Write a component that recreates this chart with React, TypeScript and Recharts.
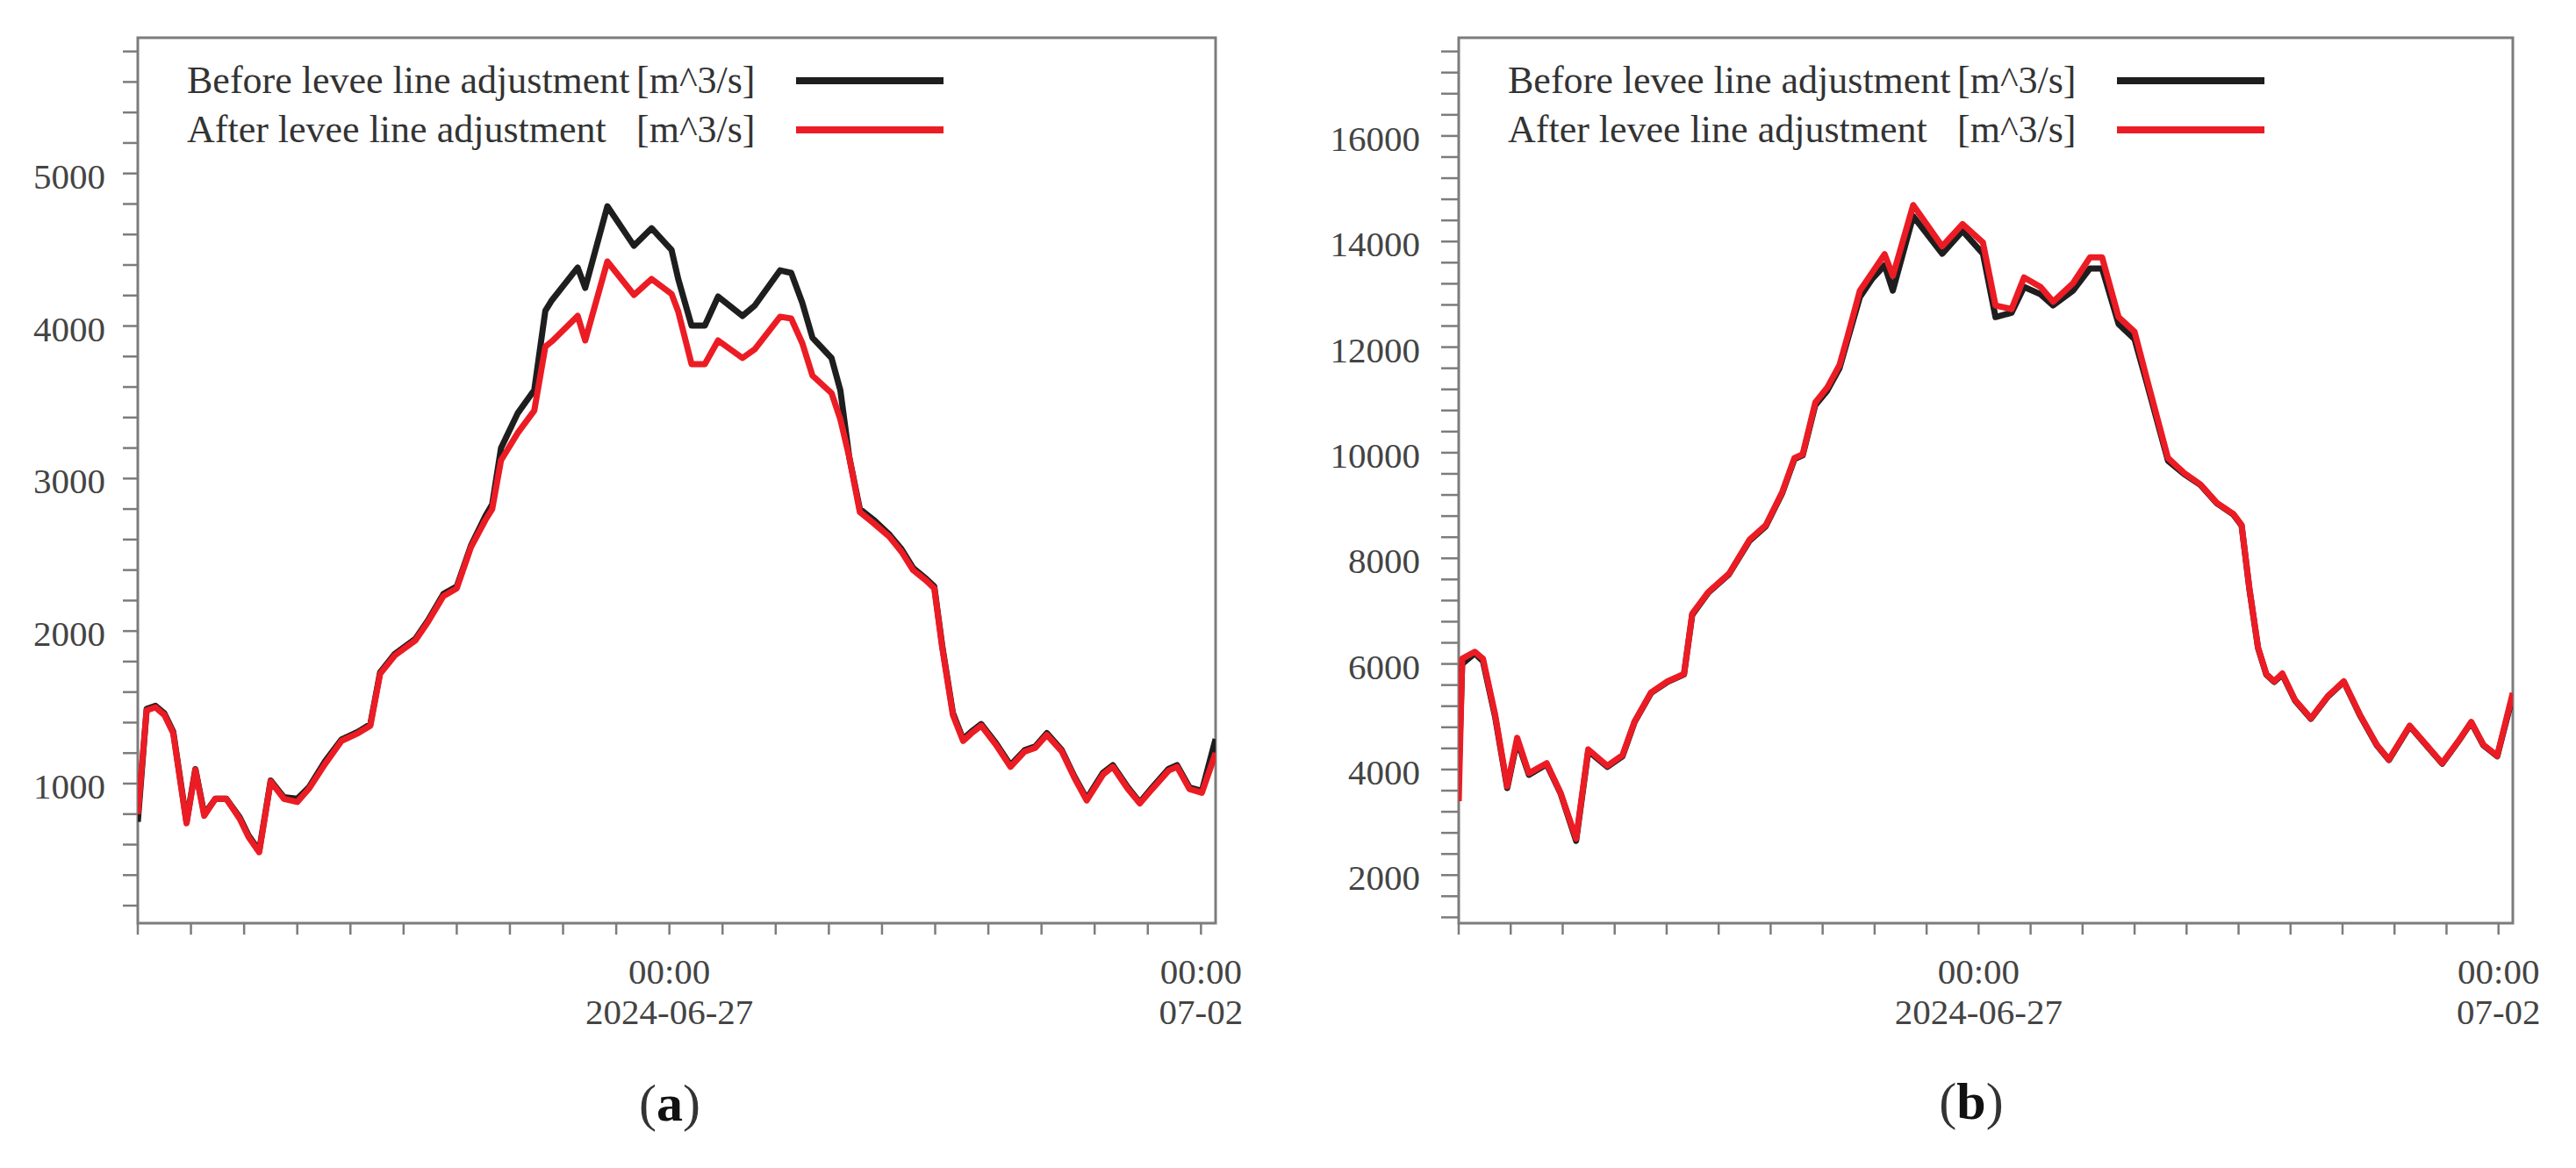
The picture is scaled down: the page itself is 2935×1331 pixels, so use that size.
import React from 'react';
import { LineChart, Line, XAxis, YAxis, ReferenceArea } from 'recharts';

// hours since 2024-06-22 00:00
const hoursA = [
  0, 2, 4, 6, 8, 11, 13, 15, 17.5, 20, 23, 25, 27.4, 30, 33, 36, 38.6, 42.3, 46, 49.7,
  52.5, 54.7, 58, 62.7, 65.5, 69, 72, 75.2, 78.5, 80, 82, 85.8, 89.5, 92, 93.5, 99.3, 101, 106, 112, 116,
  120.5, 122, 125, 128, 131, 136.5, 139.3, 145, 147.5, 150, 152.3, 156.6, 158.6, 160.6, 163, 166, 169.6, 172.4, 175, 178,
  179.8, 181.6, 184, 186.3, 188.2, 190.4, 193.7, 197, 200.2, 202.6, 205.2, 208.6, 211.4, 214.2, 217.9, 220.1, 223.5, 226.2, 229, 232.7,
  234.6, 237.4, 240.2, 243.3,
];
const beforeA = [
  750, 1490, 1510, 1460, 1340, 750, 1095, 800, 900, 900, 780, 660, 560, 1020, 910, 900, 975, 1147, 1290, 1340,
  1390, 1730, 1850, 1950, 2070, 2244, 2292, 2560, 2756, 2830, 3200, 3430, 3580, 4100, 4170, 4383, 4250, 4785, 4526, 4641,
  4498, 4308, 4003, 4003, 4193, 4066, 4135, 4365, 4348, 4153, 3923, 3790, 3578, 3141, 2800, 2732, 2635, 2537, 2414, 2342,
  2292, 1902, 1463, 1292, 1342, 1390, 1267, 1121, 1219, 1244, 1331, 1219, 1049, 901, 1072, 1121, 975, 877, 975, 1097,
  1121, 975, 951, 1292,
];
const afterA = [
  800, 1480, 1500, 1450, 1330, 740, 1090, 790, 900, 900, 770, 650, 550, 1014, 900, 880, 965, 1130, 1280, 1330,
  1380, 1720, 1840, 1940, 2060, 2230, 2280, 2550, 2730, 2800, 3120, 3300, 3446, 3865, 3900, 4066, 3905, 4423, 4204, 4308,
  4210, 4095, 3750, 3750, 3905, 3790, 3848, 4061, 4049, 3888, 3675, 3560, 3388, 3141, 2780, 2710, 2620, 2520, 2400, 2330,
  2280, 1890, 1450, 1280, 1330, 1380, 1255, 1110, 1210, 1235, 1320, 1210, 1040, 890, 1060, 1110, 965, 870, 965, 1085,
  1110, 965, 940, 1200,
];

const hoursB = [
  0, 0.8, 3.7, 5.6, 8.4, 11.2, 13.5, 16.2, 20.3, 23.5, 27.1, 29.9, 34.3, 37.8, 40.6, 44.4, 48.2, 52, 53.9, 57.6,
  62.4, 67.1, 70.9, 74.7, 77.5, 79.4, 82.3, 85.1, 87.9, 89.8, 92.6, 95.5, 98.3, 100.2, 104.9, 111.6, 116.3, 121, 123.9, 127.6,
  130.5, 134.3, 137.2, 141.8, 145.7, 148.5, 152.3, 156, 158.9, 163.7, 167.4, 171.2, 175, 178.8, 180.7, 182.5, 184.5, 186.4, 188.2, 190.1,
  193, 196.7, 200.6, 204.3, 208, 211.9, 214.7, 219.5, 223.3, 227, 230.8, 233.7, 236.5, 239.7, 243.3,
];
const beforeB = [
  3900, 6000, 6200, 6050, 5000, 3650, 4550, 3900, 4100, 3550, 2650, 4350, 4050, 4250, 4900, 5450, 5660, 5800, 6930, 7350,
  7700, 8330, 8610, 9240, 9880, 9950, 10900, 11180, 11600, 12150, 12950, 13300, 13550, 13070, 14480, 13770, 14200, 13770, 12570, 12650,
  13140, 13000, 12790, 13070, 13490, 13490, 12440, 12150, 11300, 9850, 9600, 9390, 9040, 8830, 8620, 7420, 6300, 5800, 5660, 5800,
  5310, 4960, 5380, 5660, 5030, 4460, 4180, 4820, 4460, 4110, 4540, 4890, 4460, 4250, 5400,
];
const afterB = [
  3400, 6100, 6230, 6100, 5040, 3680, 4600, 3930, 4120, 3560, 2690, 4380, 4070, 4270, 4910, 5460, 5670, 5810, 6950, 7360,
  7710, 8350, 8630, 9260, 9900, 9970, 10950, 11240, 11660, 12220, 13070, 13420, 13760, 13350, 14690, 13910, 14330, 13980, 12790, 12720,
  13320, 13140, 12860, 13210, 13700, 13700, 12570, 12290, 11380, 9900, 9620, 9400, 9050, 8840, 8630, 7430, 6310, 5810, 5670, 5820,
  5320, 4970, 5390, 5670, 5040, 4470, 4190, 4830, 4470, 4120, 4545, 4900, 4470, 4260, 5450,
];

const xTicks = [0, 12, 24, 36, 48, 60, 72, 84, 96, 108, 120, 132, 144, 156, 168, 180, 192, 204, 216, 228, 240];
const xLabels: Record<number, string[]> = {
  120: ['00:00', '2024-06-27'],
  240: ['00:00', '07-02'],
};

const yTicksA = [
  200, 400, 600, 800, 1000, 1200, 1400, 1600, 1800, 2000, 2200, 2400, 2600, 2800, 3000,
  3200, 3400, 3600, 3800, 4000, 4200, 4400, 4600, 4800, 5000, 5200, 5400, 5600, 5800,
];
const yMajorA = [1000, 2000, 3000, 4000, 5000];
const yTicksB = [
  1200, 1600, 2000, 2400, 2800, 3200, 3600, 4000, 4400, 4800, 5200, 5600, 6000, 6400, 6800, 7200, 7600, 8000,
  8400, 8800, 9200, 9600, 10000, 10400, 10800, 11200, 11600, 12000, 12400, 12800, 13200, 13600, 14000, 14400,
  14800, 15200, 15600, 16000, 16400, 16800, 17200, 17600,
];
const yMajorB = [2000, 4000, 6000, 8000, 10000, 12000, 14000, 16000];

const seriesNames = ['Before levee line adjustment', 'After levee line adjustment'];
const unitLabel = '[m^3/s]';
const seriesColors = ['#1e1e1e', '#ec1c24'];

const FONT = '"Liberation Serif", "Times New Roman", serif';
const AXIS = '#7c7c7c';
const X_MAX = 243.3;

function makeRows(hours: number[], before: number[], after: number[]) {
  return hours.map((h, i) => ({ h, before: before[i], after: after[i] }));
}

const YTick = (props: any) => {
  const { x, y, payload, majors, size, gap } = props;
  const ax = x + gap + size;
  return (
    <g>
      <line x1={ax - size} x2={ax} y1={y} y2={y} stroke={AXIS} strokeWidth={2.5} />
      {majors.includes(payload.value) && (
        <text x={x} y={y} dy={17} textAnchor="end" fontSize={41} fill="#444" fontFamily={FONT}>
          {payload.value}
        </text>
      )}
    </g>
  );
};

const XTick = (props: any) => {
  const { x, y, payload } = props;
  const lab = xLabels[payload.value];
  return (
    <g>
      <line x1={x} x2={x} y1={y - 13} y2={y} stroke={AXIS} strokeWidth={2.5} />
      {lab && (
        <text textAnchor="middle" fontSize={41} fill="#444" fontFamily={FONT}>
          <tspan x={x} y={y + 56}>{lab[0]}</tspan>
          <tspan x={x} y={y + 102}>{lab[1]}</tspan>
        </text>
      )}
    </g>
  );
};

interface PanelProps {
  left: number;
  width: number;
  yWidth: number;
  marginLeft: number;
  marginRight: number;
  yDomain: [number, number];
  yTicks: number[];
  yMajor: number[];
  tickSize: number;
  tickGap: number;
  rows: any[];
}

function Panel(p: PanelProps) {
  return (
    <div style={{ position: 'absolute', left: p.left, top: 0 }}>
      <LineChart
        width={p.width}
        height={1331}
        data={p.rows}
        margin={{ top: 43, right: p.marginRight, bottom: 159, left: p.marginLeft }}
      >
        <XAxis
          dataKey="h"
          type="number"
          domain={[0, X_MAX]}
          ticks={xTicks}
          interval={0}
          allowDataOverflow
          axisLine={false}
          tickLine={false}
          tickSize={13}
          tickMargin={0}
          height={120}
          tick={<XTick />}
        />
        <YAxis
          type="number"
          domain={p.yDomain}
          ticks={p.yTicks}
          interval={0}
          allowDataOverflow
          axisLine={false}
          tickLine={false}
          tickSize={p.tickSize}
          tickMargin={p.tickGap}
          width={p.yWidth}
          tick={<YTick majors={p.yMajor} size={p.tickSize} gap={p.tickGap} />}
        />
        <ReferenceArea
          x1={0}
          x2={X_MAX}
          y1={p.yDomain[0]}
          y2={p.yDomain[1]}
          fill="none"
          fillOpacity={0}
          stroke={AXIS}
          strokeWidth={3}
        />
        <Line
          type="linear"
          dataKey="before"
          name={seriesNames[0]}
          stroke={seriesColors[0]}
          strokeWidth={7}
          strokeLinejoin="round"
          dot={false}
          isAnimationActive={false}
        />
        <Line
          type="linear"
          dataKey="after"
          name={seriesNames[1]}
          stroke={seriesColors[1]}
          strokeWidth={7}
          strokeLinejoin="round"
          dot={false}
          isAnimationActive={false}
        />
      </LineChart>
    </div>
  );
}

function LegendBox({ x0 }: { x0: number }) {
  return (
    <g fontFamily={FONT} fontSize={44} fill="#333">
      {seriesNames.map((name, i) => (
        <g key={name}>
          <text x={x0} y={106 + i * 56}>{name}</text>
          <text x={x0 + 512} y={106 + i * 56}>{unitLabel}</text>
          <line
            x1={x0 + 694}
            x2={x0 + 862}
            y1={92 + i * 56}
            y2={92 + i * 56}
            stroke={seriesColors[i]}
            strokeWidth={8}
          />
        </g>
      ))}
    </g>
  );
}

function PanelLabel({ x, y, letter }: { x: number; y: number; letter: string }) {
  return (
    <text x={x} y={y} textAnchor="middle" fontFamily={FONT} fontSize={60} fill="#333">
      (<tspan fontWeight="bold" fill="#111">{letter}</tspan>)
    </text>
  );
}

export default function App() {
  return (
    <div
      style={{
        position: 'fixed',
        left: 0,
        top: 0,
        width: 2935,
        height: 1331,
        background: '#fff',
        overflow: 'hidden',
      }}
    >
      <Panel
        left={0}
        width={1470}
        yWidth={120}
        marginLeft={37}
        marginRight={85}
        yDomain={[85, 5890]}
        yTicks={yTicksA}
        yMajor={yMajorA}
        tickSize={17}
        tickGap={20}
        rows={makeRows(hoursA, beforeA, afterA)}
      />
      <Panel
        left={1470}
        width={1465}
        yWidth={130}
        marginLeft={62}
        marginRight={72}
        yDomain={[1090, 17860]}
        yTicks={yTicksB}
        yMajor={yMajorB}
        tickSize={20}
        tickGap={24}
        rows={makeRows(hoursB, beforeB, afterB)}
      />
      <svg
        width={2935}
        height={1331}
        style={{ position: 'absolute', left: 0, top: 0, pointerEvents: 'none' }}
      >
        <LegendBox x0={213} />
        <LegendBox x0={1718} />
        <PanelLabel x={763} y={1277} letter="a" />
        <PanelLabel x={2246} y={1275} letter="b" />
      </svg>
    </div>
  );
}
